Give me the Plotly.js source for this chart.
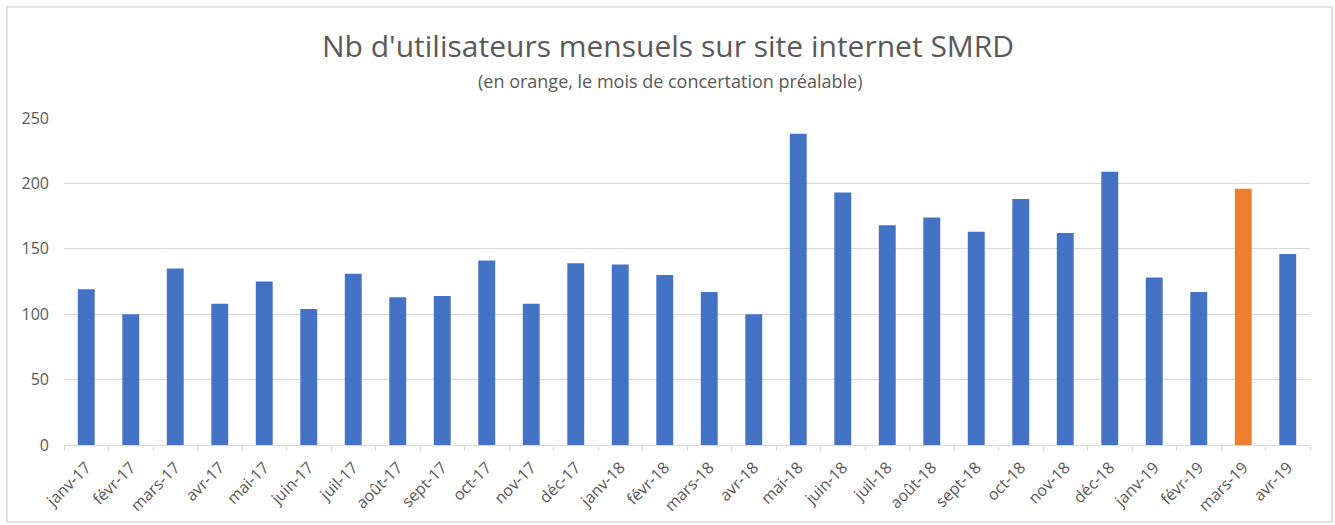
<!DOCTYPE html>
<html>
<head>
<meta charset="utf-8">
<script src="https://cdn.plot.ly/plotly-3.0.1.min.js"></script>
<style>html,body{margin:0;padding:0;background:#fff;}#chart{width:1335px;height:525px;}</style>
</head>
<body>
<div id="chart"></div>
<script>
const months = ["janv-17","févr-17","mars-17","avr-17","mai-17","juin-17","juil-17","août-17","sept-17","oct-17","nov-17","déc-17",
"janv-18","févr-18","mars-18","avr-18","mai-18","juin-18","juil-18","août-18","sept-18","oct-18","nov-18","déc-18",
"janv-19","févr-19","mars-19","avr-19"];
const users = [119,100,135,108,125,104,131,113,114,141,108,139,
138,130,117,100,238,193,168,174,163,188,162,209,
128,117,196,146];
const highlightMonth = "mars-19";
const yTicks = [0,50,100,150,200,250];

const colors = months.map(m => m === highlightMonth ? "#ED7D31" : "#4472C4");

const trace = {
  type: "bar",
  x: months,
  y: users,
  marker: {color: colors, line: {width: 0}},
  hoverinfo: "x+y"
};

const L = 64, R = 1310, T = 118, B = 445;
const pw = R - L, ph = B - T;
const px = v => (v - L) / pw;
const py = v => (B - v) / ph;

const layout = {
  width: 1335, height: 525,
  margin: {l: L, r: 1335 - R, t: T, b: 525 - B},
  paper_bgcolor: "#fff", plot_bgcolor: "#fff",
  font: {family: "Open Sans, sans-serif", color: "#595959"},
  showlegend: false,
  bargap: 0.62,
  xaxis: {
    type: "category",
    tickangle: -45,
    tickfont: {size: 16, color: "#595959"},
    ticks: "outside", tickson: "boundaries", ticklen: 5, tickcolor: "#D9D9D9",
    showline: true, linecolor: "#D9D9D9", linewidth: 1,
    showgrid: false, zeroline: false,
    ticklabelstandoff: 6
  },
  yaxis: {
    range: [0, 250],
    tickvals: yTicks,
    tickfont: {size: 16, color: "#595959"},
    showgrid: true, gridcolor: "#D9D9D9", gridwidth: 1,
    zeroline: false, showline: false, ticks: "", ticklen: 0,
    ticklabelstandoff: 14
  },
  annotations: [
    {text: "Nb d'utilisateurs mensuels sur site internet SMRD", xref: "paper", yref: "paper",
     x: px(668), y: py(45), xanchor: "center", yanchor: "middle", showarrow: false,
     font: {size: 30, color: "#595959", family: "Open Sans, sans-serif"}},
    {text: "(en orange, le mois de concertation préalable)", xref: "paper", yref: "paper",
     x: px(670), y: py(81), xanchor: "center", yanchor: "middle", showarrow: false,
     font: {size: 18, color: "#595959", family: "Open Sans, sans-serif"}}
  ],
  shapes: [
    {type: "rect", xref: "paper", yref: "paper", x0: px(7), x1: px(1332), y0: py(522), y1: py(7),
     line: {color: "#D9D9D9", width: 1.5}, fillcolor: "rgba(0,0,0,0)", layer: "below"}
  ]
};

Plotly.newPlot("chart", [trace], layout, {displayModeBar: false, staticPlot: true});
</script>
</body>
</html>
